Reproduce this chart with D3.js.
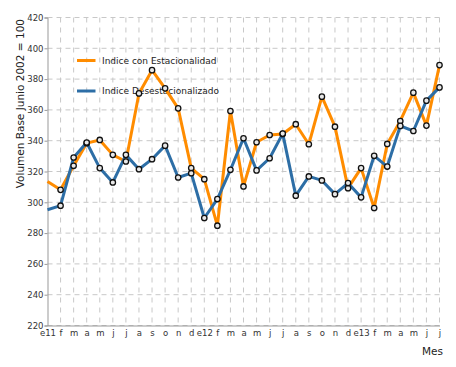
<!DOCTYPE html>
<html>
<head>
<meta charset="utf-8">
<script src="https://cdn.jsdelivr.net/npm/d3@7"></script>
<style>
  html, body { margin: 0; padding: 0; background: #fff; }
  svg { display: block; font-family: "DejaVu Sans", Verdana, sans-serif; }
</style>
</head>
<body>
<svg id="chart" width="456" height="367"></svg>
<script>
const xLabels = ["e11","f","m","a","m","j","j","a","s","o","n","d",
                 "e12","f","m","a","m","j","j","a","s","o","n","d",
                 "e13","f","m","a","m","j","j"];
const conEstacionalidad = [313.5, 308.1, 323.7, 338.4, 340.5, 330.8, 326.5, 370.7, 385.8, 374.0, 361.0, 322.2,
                           315.0, 284.8, 359.3, 310.3, 339.0, 343.7, 344.4, 350.7, 337.7, 368.6, 349.1, 309.2,
                           322.2, 296.3, 337.9, 352.8, 371.2, 349.8, 389.1];
const desestacionalizado = [295.2, 297.8, 329.1, 338.8, 322.2, 312.9, 330.8, 321.5, 328.0, 336.8, 316.1, 318.9,
                            289.8, 302.1, 321.1, 341.6, 320.7, 328.6, 344.6, 304.3, 316.8, 314.2, 305.3, 312.5,
                            303.2, 330.2, 323.2, 349.6, 346.3, 366.0, 374.6];
const yTicks = [220, 240, 260, 280, 300, 320, 340, 360, 380, 400, 420];
const seriesNames = ["Indice con Estacionalidad", "Indice Desestacionalizado"];
const seriesColors = ["#ff8c00", "#2d6ea6"];

const svg = d3.select("#chart");
const mLeft = 47.5, mRight = 439.5, mTop = 17.5, mBottom = 325.5;

const x = d3.scaleLinear().domain([0, xLabels.length - 1]).range([mLeft, mRight]);
const y = d3.scaleLinear().domain([220, 420]).range([mBottom, mTop]);

// grid
const grid = svg.append("g");
grid.selectAll("line.h").data(yTicks).join("line")
  .attr("x1", mLeft).attr("x2", mRight)
  .attr("y1", d => y(d)).attr("y2", d => y(d))
  .attr("stroke", "#c8c8c8").attr("stroke-dasharray", "5,4");
grid.selectAll("line.v").data(d3.range(1, xLabels.length)).join("line")
  .attr("x1", d => x(d)).attr("x2", d => x(d))
  .attr("y1", mTop).attr("y2", mBottom)
  .attr("stroke", "#c8c8c8").attr("stroke-dasharray", "5,5");

// axes
const yAxis = d3.axisLeft(y).tickValues(yTicks).tickSize(3).tickPadding(1);
const gy = svg.append("g").attr("transform", `translate(${mLeft},0)`).call(yAxis);
gy.select(".domain").attr("stroke", "#999");
gy.selectAll(".tick line").attr("stroke", "#999");
gy.selectAll(".tick text").attr("font-size", "8.5px").attr("fill", "#333")
  .attr("font-family", "DejaVu Sans, Verdana, sans-serif");

const xAxis = d3.axisBottom(x).tickValues(d3.range(xLabels.length))
  .tickFormat(i => xLabels[i]).tickSize(0).tickPadding(4);
const gx = svg.append("g").attr("transform", `translate(0,${mBottom})`).call(xAxis);
gx.select(".domain").attr("stroke", "#999");
gx.selectAll(".tick text").attr("font-size", "8.5px").attr("fill", "#333")
  .attr("font-family", "DejaVu Sans, Verdana, sans-serif");

// axis titles
svg.append("text")
  .attr("transform", "translate(24,19) rotate(-90)")
  .attr("text-anchor", "end")
  .attr("font-size", "10.5px").attr("fill", "#222")
  .text("Volumen Base Junio 2002 = 100");
svg.append("text")
  .attr("x", 443).attr("y", 355)
  .attr("text-anchor", "end")
  .attr("font-size", "10.5px").attr("fill", "#222")
  .text("Mes");

// legend (drawn beneath the lines)
const legend = svg.append("g");
seriesNames.forEach((name, i) => {
  const ly = 60.5 + i * 30.5;
  legend.append("line").attr("x1", 77).attr("x2", 95.5).attr("y1", ly).attr("y2", ly)
    .attr("stroke", seriesColors[i]).attr("stroke-width", 3);
  legend.append("text").attr("x", 102).attr("y", ly).attr("dy", "0.35em")
    .attr("font-size", "9px").attr("fill", "#222").text(name);
});

// series
const allSeries = [conEstacionalidad, desestacionalizado];
const line = d3.line().x((d, i) => x(i)).y(d => y(d));
allSeries.forEach((vals, s) => {
  svg.append("path").datum(vals)
    .attr("fill", "none").attr("stroke", seriesColors[s])
    .attr("stroke-width", 3).attr("stroke-linejoin", "round")
    .attr("d", line);
});
allSeries.forEach((vals, s) => {
  svg.append("g").selectAll("circle")
    .data(vals.map((v, i) => ({v, i})).filter(d => d.i > 0))
    .join("circle")
    .attr("cx", d => x(d.i)).attr("cy", d => y(d.v))
    .attr("r", 2.7)
    .attr("fill", "#e8e8e8").attr("stroke", "#111").attr("stroke-width", 1.3);
});
</script>
</body>
</html>
